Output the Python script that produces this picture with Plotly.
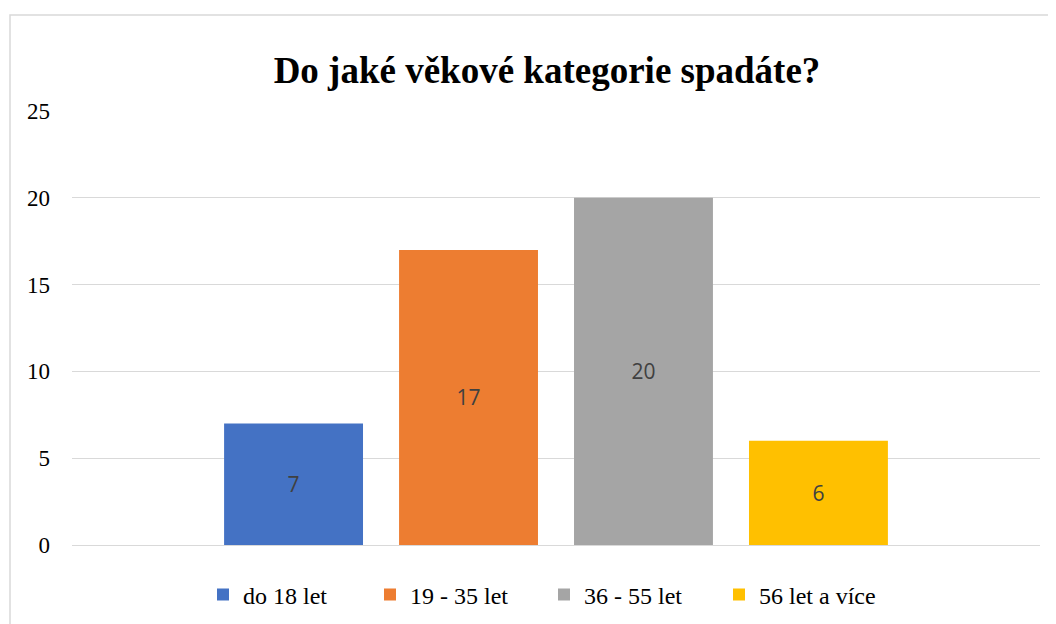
import plotly.graph_objects as go

category = ["Věk"]
series_names = ["do 18 let", "19 - 35 let", "36 - 55 let", "56 let a více"]
series_values = [7, 17, 20, 6]
series_colors = ["#4472C4", "#ED7D31", "#A5A5A5", "#FFC000"]
y_ticks = [0, 5, 10, 15, 20, 25]

SERIF = "Times New Roman, Liberation Serif, serif"

W, H = 1056, 624
OFF = 8  # page body margin offset
# reference-pixel layout, converted to figure coordinates
PL, PR, PT, PB = 72 - OFF, 1040 - OFF, 111 - OFF, 545 - OFF
ML, MR, MT, MB = PL, W - PR, PT, H - PB
PW = PR - PL
PH = PB - PT

def px_to_paper_x(px):
    return (px - OFF - PL) / PW

def py_to_paper_y(py):
    return (PB - (py - OFF)) / PH

legend_sym_centers = [227, 394, 568, 743]

fig = go.Figure()
legend_ids = ["legend", "legend2", "legend3", "legend4"]
for i, (name, val, col) in enumerate(zip(series_names, series_values, series_colors)):
    fig.add_trace(go.Bar(
        x=category, y=[val], name=name,
        marker=dict(color=col, line=dict(width=0)),
        text=[str(val)], textposition="inside", insidetextanchor="middle",
        textfont=dict(family="Open Sans", size=21, color="#404040"),
        legend=legend_ids[i],
    ))

layout_legends = {}
for i, lid in enumerate(legend_ids):
    layout_legends[lid] = dict(
        x=px_to_paper_x(legend_sym_centers[i] - 24), xanchor="left",
        y=py_to_paper_y(595), yanchor="middle",
        orientation="h", bgcolor="rgba(0,0,0,0)", borderwidth=0,
        font=dict(family=SERIF, size=24, color="#000000"),
        itemclick=False, itemdoubleclick=False,
    )

fig.update_layout(
    width=W, height=H,
    margin=dict(l=ML, r=MR, t=MT, b=MB),
    paper_bgcolor="white", plot_bgcolor="white",
    font=dict(family=SERIF, color="#000000"),
    barmode="group", bargap=0.277, bargroupgap=0.206,
    title=dict(text="<b>Do jaké věkové kategorie spadáte?</b>",
               x=(547 - OFF) / W, xref="container", xanchor="center",
               y=(H - (70 - OFF)) / H, yref="container", yanchor="middle",
               font=dict(family=SERIF, size=37, color="#000000")),
    xaxis=dict(showticklabels=False, showgrid=False, zeroline=False,
               showline=False, ticks=""),
    yaxis=dict(range=[0, 25], tickvals=y_ticks, showgrid=True,
               gridcolor="#D9D9D9", gridwidth=1.3, zeroline=True,
               zerolinecolor="#D9D9D9", zerolinewidth=1.3, showline=False,
               ticks="", ticklabelstandoff=21,
               tickfont=dict(family=SERIF, size=23, color="#000000")),
    showlegend=True,
    **layout_legends,
    shapes=[dict(type="rect", xref="paper", yref="paper",
                 x0=px_to_paper_x(10), x1=px_to_paper_x(1080),
                 y0=py_to_paper_y(700), y1=py_to_paper_y(15),
                 line=dict(color="#D9D9D9", width=1.5), fillcolor="rgba(0,0,0,0)",
                 layer="below")],
)

fig.write_html("out.html")
